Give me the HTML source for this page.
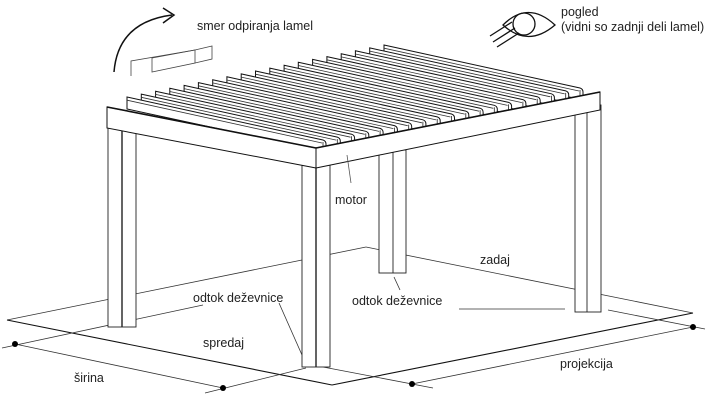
<!DOCTYPE html>
<html><head><meta charset="utf-8"><style>
html,body{margin:0;padding:0;background:#fff;}
svg{display:block;}
text{font-family:"Liberation Sans","DejaVu Sans",sans-serif;font-size:12.5px;fill:#222;}
</style></head><body>
<svg width="720" height="404" viewBox="0 0 720 404" xmlns="http://www.w3.org/2000/svg">
<defs>
<g id="L" fill="#fff" stroke="#111" stroke-width="1">
<path d="M0,0 L196,43 Q199,44 199,47 L199,55 L0,12 Z"/>
<line x1="0" y1="3.2" x2="195" y2="46" stroke="#333" stroke-width="0.8"/>
<line x1="196" y1="45" x2="196" y2="54" stroke="#222" stroke-width="0.8"/>
</g>
</defs>
<g fill="none" stroke="#333" stroke-width="0.8">
<line x1="7" y1="320" x2="366" y2="247"/>
<line x1="366" y1="247" x2="693" y2="313"/>
<line x1="7" y1="320" x2="332" y2="385" stroke="#111" stroke-width="1.1"/>
<line x1="332" y1="385" x2="693" y2="313" stroke="#111" stroke-width="1.1"/>
<line x1="2" y1="348" x2="203" y2="305"/>
<line x1="205" y1="393" x2="306" y2="368"/>
<line x1="15" y1="344" x2="223" y2="388"/>
<line x1="323" y1="367" x2="433" y2="388"/>
<line x1="608" y1="310" x2="705" y2="329"/>
<line x1="412" y1="384" x2="693" y2="327"/>
<line x1="279" y1="303" x2="302" y2="355"/>
<line x1="394" y1="277" x2="400" y2="290"/>
<line x1="459" y1="309" x2="565" y2="309"/>
</g>
<g fill="#000"><circle cx="15" cy="344" r="3"/><circle cx="223" cy="388" r="3"/><circle cx="412" cy="384" r="3"/><circle cx="693" cy="327" r="3"/></g>
<g fill="#fff" stroke="#222" stroke-width="0.9">
<rect x="379" y="150" width="27" height="123"/>
<line x1="393" y1="150" x2="393" y2="273"/>
<rect x="575" y="105" width="26" height="207"/>
<line x1="587" y1="105" x2="587" y2="312"/>
<rect x="108" y="120" width="28" height="207"/>
<line x1="122" y1="120" x2="122" y2="327" stroke-width="1.4"/>
<rect x="302" y="160" width="28" height="207"/>
<line x1="316" y1="160" x2="316" y2="367" stroke-width="1.4"/>
</g>
<use href="#L" transform="translate(384,45)"/>
<use href="#L" transform="translate(369.7,47.9)"/>
<use href="#L" transform="translate(355.4,50.8)"/>
<use href="#L" transform="translate(341.2,53.7)"/>
<use href="#L" transform="translate(326.9,56.6)"/>
<use href="#L" transform="translate(312.6,59.4)"/>
<use href="#L" transform="translate(298.3,62.3)"/>
<use href="#L" transform="translate(284.1,65.2)"/>
<use href="#L" transform="translate(269.8,68.1)"/>
<use href="#L" transform="translate(255.5,71)"/>
<use href="#L" transform="translate(241.2,73.9)"/>
<use href="#L" transform="translate(226.9,76.8)"/>
<use href="#L" transform="translate(212.7,79.7)"/>
<use href="#L" transform="translate(198.4,82.6)"/>
<use href="#L" transform="translate(184.1,85.4)"/>
<use href="#L" transform="translate(169.8,88.3)"/>
<use href="#L" transform="translate(155.6,91.2)"/>
<use href="#L" transform="translate(141.3,94.1)"/>
<use href="#L" transform="translate(127,97)"/>
<g fill="#fff" stroke="#111" stroke-width="1">
<polygon points="107,107 316,148 316,168 107,128"/>
<polygon points="316,148 600,92 600,110 316,168"/>
<line x1="107" y1="107" x2="316" y2="148" stroke-width="1.6"/>
<line x1="316" y1="148" x2="600" y2="92" stroke-width="1.6"/>
</g>
<line x1="347" y1="155" x2="351" y2="183" stroke="#555" stroke-width="0.8"/>
<g fill="none" stroke="#111" stroke-width="1.5">
<path d="M114,72 Q118,22 172,15"/>
<path d="M163,8 L174,15 L163,23"/>
</g>
<g fill="none" stroke="#444" stroke-width="0.8">
<polyline points="131,76 131,61 195,50"/>
<polygon points="152,58 195,50 195,63 152,72"/>
<polyline points="195,50 212,46 212,59 195,63"/>
</g>
<g fill="none" stroke="#111" stroke-width="1.3">
<path d="M503,25 Q528,0 555,25 Q528,48 503,25 Z"/>
<circle cx="524" cy="24" r="11"/>
<line x1="490" y1="36" x2="512" y2="22"/>
<line x1="493" y1="42" x2="515" y2="28"/>
<line x1="497" y1="47" x2="519" y2="33"/>
</g>
<text x="197" y="30">smer odpiranja lamel</text>
<text x="561" y="16">pogled</text>
<text x="561" y="31">(vidni so zadnji deli lamel)</text>
<text x="335" y="204">motor</text>
<text x="193" y="302">odtok deževnice</text>
<text x="352" y="305">odtok deževnice</text>
<text x="480" y="264">zadaj</text>
<text x="203" y="347">spredaj</text>
<text x="74" y="382">širina</text>
<text x="560" y="368">projekcija</text>
</svg>
</body></html>
